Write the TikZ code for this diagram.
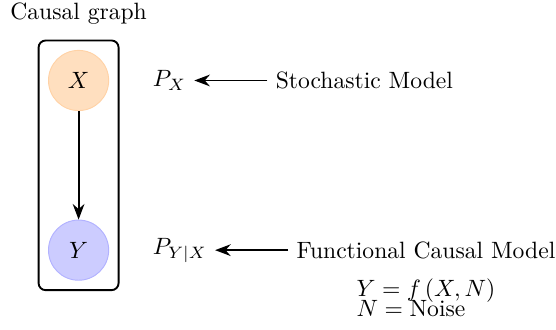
\documentclass[tikz,border=0pt]{standalone}
\usepackage{amsmath}
\usetikzlibrary{arrows.meta,fit,positioning}
\begin{document}
\begin{tikzpicture}[node distance=2mm,>=Stealth]
  \useasboundingbox (-33.3pt,-105.7pt) rectangle (202.3pt,34.1pt);
  \node[circle,draw=orange!35,fill=orange!25,minimum size=25.5pt] (x) {$X$};
  \node[circle,draw=blue!30,fill=blue!20,minimum size=25.5pt,below=46pt of x] (y) {$Y$};
  \draw[->,thick] (x) -- (y);
  \node[draw,thick,rounded corners=3pt,fit=(x)(y),inner sep=4pt,label={[label distance=3pt]above:Causal graph}] (graph) {};
  \node[right=15pt of x] (px) {$P_X$};
  \node[right=31pt of px] (sm) {Stochastic Model};
  \draw[->,thick] (sm) -- (px);
  \node[right=15pt of y] (pyx) {$P_{Y|X}$};
  \node[right=31pt of pyx] (fcm) {Functional Causal Model};
  \draw[->,thick] (fcm) -- (pyx);
  \node[below=1.3pt of fcm] (eqf) {$Y = f\left(X,N\right)$};
  \node[anchor=base west] (eqn) at ([yshift=-8.5pt]eqf.base west) {$N = \text{Noise}$};
\end{tikzpicture}
\end{document}
